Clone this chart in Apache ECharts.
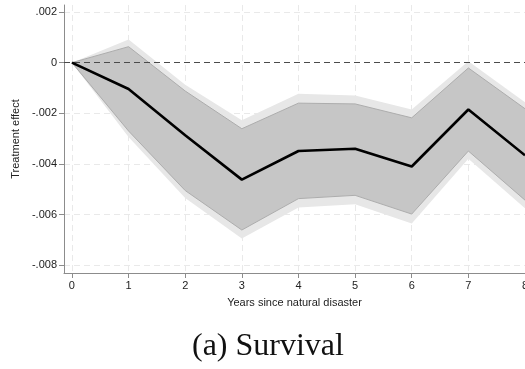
<!DOCTYPE html>
<html>
<head>
<meta charset="utf-8">
<script src="https://cdn.jsdelivr.net/npm/echarts@6/dist/echarts.min.js"></script>
<style>
  html, body { margin: 0; padding: 0; background: #ffffff; }
  #chart { width: 525px; height: 369px; }
</style>
</head>
<body>
<div id="chart"></div>
<script>
// Event-study estimates: effect on survival by years since a natural disaster
const years = [0, 1, 2, 3, 4, 5, 6, 7, 8];
const estimate = [0, -0.00104, -0.00287, -0.00462, -0.00349, -0.0034, -0.0041, -0.00185, -0.00366];
// inner (darker) confidence band
const innerUpper = [0, 0.00063, -0.00112, -0.00261, -0.0016, -0.00163, -0.00218, -0.00021, -0.00182];
const innerLower = [0, -0.0027, -0.00505, -0.00661, -0.00537, -0.00524, -0.00598, -0.00349, -0.00543];
// outer (lighter) confidence band
const outerUpper = [0, 0.00091, -0.00087, -0.00228, -0.00123, -0.0013, -0.00185, 0.00005, -0.00156];
const outerLower = [0, -0.00294, -0.00535, -0.00694, -0.00572, -0.00559, -0.00635, -0.0038, -0.00575];
// axis ticks
const xTicks = [0, 1, 2, 3, 4, 5, 6, 7, 8];
const yTicks = [-0.008, -0.006, -0.004, -0.002, 0, 0.002];

const pairs = (vals) => years.map((x, i) => [x, vals[i]]);
// one row per year: [year, lower, upper]
const bandRows = (lo, hi) => years.map((x, i) => [x, lo[i], hi[i]]);

function fmtY(v) {
  const n = Math.round(v * 1000) / 1000;
  if (n === 0) return '0';
  const s = Math.abs(n).toFixed(3).replace(/^0/, '');
  return (n < 0 ? '-' : '') + s;
}

// Draws the whole band as one polygon, upper edge left-to-right then lower edge back
function bandRenderer(fill, edge) {
  return function (params, api) {
    if (params.dataIndex !== 0) return null;
    const upper = [], lower = [];
    for (let i = 0; i < years.length; i++) {
      const x = api.value(0, i);
      upper.push(api.coord([x, api.value(2, i)]));
      lower.push(api.coord([x, api.value(1, i)]));
    }
    const pts = upper.concat(lower.slice().reverse());
    const children = [{
      type: 'polygon',
      shape: { points: pts },
      style: { fill: fill, stroke: null }
    }];
    if (edge) {
      children.push({ type: 'polyline', shape: { points: upper }, style: { stroke: edge, lineWidth: 1, fill: null } });
      children.push({ type: 'polyline', shape: { points: lower }, style: { stroke: edge, lineWidth: 1, fill: null } });
    }
    return {
      type: 'group',
      clipPath: {
        type: 'rect',
        shape: { x: params.coordSys.x, y: params.coordSys.y, width: params.coordSys.width, height: params.coordSys.height }
      },
      children: children
    };
  };
}

const chart = echarts.init(document.getElementById('chart'), null, { renderer: 'canvas' });

const axisLineColor = '#8c8c8c';
const gridLine = { show: true, lineStyle: { color: '#e9e9e9', type: [6, 4], width: 1 } };

chart.setOption({
  animation: false,
  backgroundColor: '#ffffff',
  title: {
    text: '(a) Survival',
    left: 187,
    top: 326,
    textStyle: { fontFamily: 'Liberation Serif', fontWeight: 'normal', fontSize: 32, color: '#111' }
  },
  grid: { left: 64, right: 0, top: 5, bottom: 96, outerBoundsMode: 'none', containLabel: false },
  xAxis: {
    type: 'value',
    min: -0.14,
    max: 8,
    name: 'Years since natural disaster',
    nameLocation: 'middle',
    nameGap: 24,
    nameTextStyle: { fontFamily: 'Liberation Sans', fontSize: 11, color: '#222' },
    axisLine: { show: true, onZero: false, lineStyle: { color: axisLineColor, width: 1 } },
    axisTick: { show: true, length: 5, customValues: xTicks, lineStyle: { color: axisLineColor } },
    axisLabel: {
      customValues: xTicks, margin: 7, showMinLabel: true, showMaxLabel: true,
      fontFamily: 'Liberation Sans', fontSize: 11, color: '#222'
    },
    splitLine: gridLine
  },
  yAxis: {
    type: 'value',
    min: -0.008307,
    max: 0.002276,
    name: 'Treatment effect',
    nameLocation: 'middle',
    nameGap: 41,
    nameTextStyle: { fontFamily: 'Liberation Sans', fontSize: 11, color: '#222' },
    axisLine: { show: true, onZero: false, lineStyle: { color: axisLineColor, width: 1 } },
    axisTick: { show: true, length: 5, customValues: yTicks, lineStyle: { color: axisLineColor } },
    axisLabel: {
      customValues: yTicks, margin: 7, formatter: fmtY,
      fontFamily: 'Liberation Sans', fontSize: 11, color: '#222'
    },
    splitLine: gridLine
  },
  series: [
    {
      name: 'outerBand', type: 'custom', silent: true, z: 1,
      data: bandRows(outerLower, outerUpper),
      encode: { x: 0, y: [1, 2] },
      renderItem: bandRenderer('#e7e7e7', null)
    },
    {
      name: 'innerBand', type: 'custom', silent: true, z: 2,
      data: bandRows(innerLower, innerUpper),
      encode: { x: 0, y: [1, 2] },
      renderItem: bandRenderer('#c6c6c6', '#adadad')
    },
    {
      name: 'Estimate', type: 'line', data: pairs(estimate), symbol: 'none',
      lineStyle: { color: '#000000', width: 2.6 }, z: 5,
      markLine: {
        silent: true, symbol: 'none', label: { show: false },
        lineStyle: { color: '#4a4a4a', type: [6, 4], width: 1 },
        data: [{ yAxis: 0 }]
      }
    }
  ]
});
</script>
</body>
</html>
